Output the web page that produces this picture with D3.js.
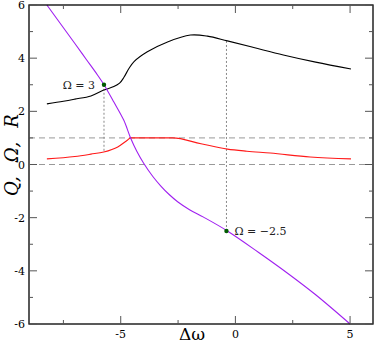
<!DOCTYPE html>
<html>
<head>
<meta charset="utf-8">
<script src="https://cdn.jsdelivr.net/npm/d3@7"></script>
<style>
  body { margin: 0; background: #fff; }
  svg { display: block; }
</style>
</head>
<body>
<div id="chart"></div>
<script>
// Q curve (black)
const qDw = [-8.22, -7.5, -7, -6.3, -5.74, -5.3, -5.05, -4.86, -4.65, -4.42, -3.84, -2.96, -1.96, -1.22, -0.35, 0.8, 2.09, 3.5, 5.04];
const qVal = [2.28, 2.38, 2.46, 2.58, 2.80, 2.93, 3.06, 3.28, 3.60, 3.87, 4.24, 4.61, 4.87, 4.83, 4.65, 4.40, 4.12, 3.85, 3.59];

// R curve (red)
const rDw = [-8.22, -7, -6.3, -5.74, -5.13, -4.7, -4.57, -4, -3.3, -2.74, -1.5, -0.35, 0.5, 1.52, 3.26, 5.04];
const rVal = [0.21, 0.30, 0.39, 0.47, 0.66, 0.92, 1.0, 1.0, 1.0, 1.0, 0.78, 0.58, 0.50, 0.43, 0.28, 0.21];

// Omega curve (purple)
const oDw = [-8.22, -7, -6.5, -6, -5.73, -5.3, -4.87, -4.57, -4.3, -4.0, -3.6, -3.26, -2.9, -2.52, -2.0, -1.39, -0.35, 1.0, 2.26, 3.5, 5.0];
const oVal = [6.0, 4.55, 3.95, 3.35, 3.0, 2.35, 1.67, 1.0, 0.5, 0.05, -0.45, -0.8, -1.12, -1.4, -1.7, -1.98, -2.5, -3.3, -4.08, -4.9, -6.0];

// marked points and labels
const marks = [
  { dw: -5.73, om: 3.0, label: 'Ω = 3', side: 'left', dropTo: 0.47 },
  { dw: -0.39, om: -2.5, label: 'Ω = −2.5', side: 'right', dropTo: 4.66 }
];

const xMajor = [-5, 0, 5];
const xMinor = [-7.5, -2.5, 2.5];
const yMajor = [-6, -4, -2, 0, 2, 4, 6];
const yMinor = [-5, -3, -1, 1, 3, 5];
const refLines = [0, 1];
const yTitleParts = ['Q,', 'Ω,', 'R'];

const W = 374, H = 343;
const margin = { top: 5, right: 1, bottom: 19, left: 29 };
const FONT = 'DejaVu Serif';

const svg = d3.select('#chart').append('svg')
  .attr('width', W).attr('height', H)
  .attr('font-family', FONT);

const x = d3.scaleLinear().domain([-9, 6]).range([margin.left, W - margin.right]);
const y = d3.scaleLinear().domain([-6, 6]).range([H - margin.bottom, margin.top]);

const x0 = x.range()[0], x1 = x.range()[1];
const y0 = y.range()[0], y1 = y.range()[1];

// dashed reference lines
svg.selectAll('.ref').data(refLines).enter().append('line')
  .attr('x1', x0).attr('x2', x1)
  .attr('y1', d => y(d)).attr('y2', d => y(d))
  .attr('stroke', '#999').attr('stroke-width', 1)
  .attr('stroke-dasharray', '6,4');

// dotted drop lines
svg.selectAll('.drop').data(marks).enter().append('line')
  .attr('x1', d => x(d.dw)).attr('x2', d => x(d.dw))
  .attr('y1', d => y(d.om)).attr('y2', d => y(d.dropTo))
  .attr('stroke', '#888').attr('stroke-width', 1)
  .attr('stroke-dasharray', '2,2');

function drawCurve(xs, ys, color, curve) {
  const line = d3.line()
    .x(d => x(d[0])).y(d => y(d[1]))
    .curve(curve);
  svg.append('path')
    .datum(xs.map((v, i) => [v, ys[i]]))
    .attr('fill', 'none')
    .attr('stroke', color)
    .attr('stroke-width', 1.1)
    .attr('d', line);
}

drawCurve(qDw, qVal, '#000', d3.curveCatmullRom.alpha(0.5));
drawCurve(rDw, rVal, '#ff1a1a', d3.curveMonotoneX);
drawCurve(oDw, oVal, '#a020f0', d3.curveCatmullRom.alpha(0.5));

// points
svg.selectAll('.pt').data(marks).enter().append('circle')
  .attr('cx', d => x(d.dw)).attr('cy', d => y(d.om))
  .attr('r', 2.2)
  .attr('fill', '#005a00');

svg.selectAll('.lbl').data(marks).enter().append('text')
  .attr('x', d => d.side === 'left' ? x(d.dw) - 9 : x(d.dw) + 8)
  .attr('y', d => y(d.om) + 4)
  .attr('text-anchor', d => d.side === 'left' ? 'end' : 'start')
  .attr('font-size', 11)
  .attr('fill', '#222')
  .text(d => d.label);

// frame
svg.append('rect')
  .attr('x', x0).attr('y', y1)
  .attr('width', x1 - x0).attr('height', y0 - y1)
  .attr('fill', 'none').attr('stroke', '#000').attr('stroke-width', 1.3);

// inward ticks on all four sides
const tickColor = '#555';
function xTicks(vals, len) {
  vals.forEach(v => {
    svg.append('line').attr('x1', x(v)).attr('x2', x(v))
      .attr('y1', y0).attr('y2', y0 - len).attr('stroke', tickColor);
    svg.append('line').attr('x1', x(v)).attr('x2', x(v))
      .attr('y1', y1).attr('y2', y1 + len).attr('stroke', tickColor);
  });
}
function yTicks(vals, len) {
  vals.forEach(v => {
    svg.append('line').attr('y1', y(v)).attr('y2', y(v))
      .attr('x1', x0).attr('x2', x0 + len).attr('stroke', tickColor);
    svg.append('line').attr('y1', y(v)).attr('y2', y(v))
      .attr('x1', x1).attr('x2', x1 - len).attr('stroke', tickColor);
  });
}
xTicks(xMajor, 8); xTicks(xMinor, 4);
yTicks(yMajor, 8); yTicks(yMinor, 4);

// tick labels
svg.selectAll('.xl').data(xMajor).enter().append('text')
  .attr('x', d => x(d)).attr('y', y0 + 14)
  .attr('text-anchor', 'middle').attr('font-size', 11)
  .text(d => String(d));

svg.selectAll('.yl').data(yMajor).enter().append('text')
  .attr('x', x0 - 4).attr('y', d => Math.max(y(d) + 4, 9))
  .attr('text-anchor', 'end').attr('font-size', 11)
  .text(d => String(d));

// axis titles
svg.append('text')
  .attr('x', 192).attr('y', 340)
  .attr('text-anchor', 'middle').attr('font-size', 17)
  .text('Δω');

const yt = svg.append('text')
  .attr('transform', 'translate(18,155) rotate(-90)')
  .attr('text-anchor', 'middle').attr('font-size', 18)
  .attr('font-style', 'italic');
yTitleParts.forEach((p, i) => {
  yt.append('tspan').attr('dx', i === 0 ? 0 : 14).text(p);
});
</script>
</body>
</html>
